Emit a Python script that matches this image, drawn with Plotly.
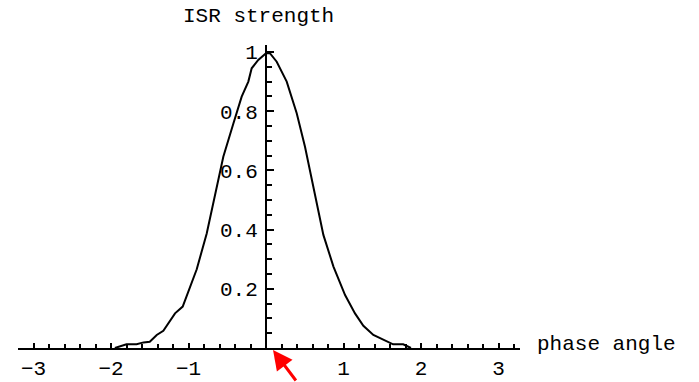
import plotly.graph_objects as go

# data
phase = [-1.95, -1.80, -1.67, -1.58, -1.50, -1.41, -1.325, -1.174, -1.075, -0.894,
         -0.765, -0.636, -0.551, -0.42, -0.314, -0.228, -0.185, -0.10, 0.0, 0.05,
         0.138, 0.267, 0.396, 0.503, 0.61, 0.74, 0.87, 1.02, 1.148, 1.256,
         1.385, 1.49, 1.64, 1.77, 1.87]
strength = [0.0, 0.0125, 0.0125, 0.019, 0.021, 0.044, 0.058, 0.117, 0.14, 0.266,
            0.387, 0.54, 0.646, 0.759, 0.849, 0.90, 0.945, 0.973, 0.996, 0.996,
            0.967, 0.90, 0.793, 0.68, 0.54, 0.382, 0.275, 0.179, 0.117, 0.075,
            0.044, 0.030, 0.0125, 0.0125, 0.0]

x_tickvals = [-3, -2, -1, 1, 2, 3]
x_ticktext = ["\u22123", "\u22122", "\u22121", "1", "2", "3"]
y_tickvals = [0.2, 0.4, 0.6, 0.8, 1.0]
y_ticktext = ["0.2", "0.4", "0.6", "0.8", "1"]

x_title = "phase angle"
y_title = "ISR strength"

FONT = "Liberation Mono"
TICKSIZE = 21

fig = go.Figure()
fig.add_trace(go.Scatter(x=phase, y=strength, mode="lines",
                         line=dict(color="black", width=2),
                         hoverinfo="skip", showlegend=False))

fig.update_layout(
    width=699, height=382,
    margin=dict(l=18, r=179, t=45, b=34, autoexpand=False),
    paper_bgcolor="white", plot_bgcolor="white",
    font=dict(family=FONT, size=TICKSIZE, color="black"),
    showlegend=False,
    xaxis=dict(range=[-3.2, 3.277], showgrid=False, zeroline=False,
               automargin=False,
               showline=True, linecolor="black", linewidth=2,
               tickmode="array", tickvals=x_tickvals, ticktext=x_ticktext,
               ticks="inside", ticklen=5, tickwidth=2, tickcolor="black",
               ticklabelstandoff=0,
               minor=dict(dtick=0.2, tick0=0, ticks="inside", ticklen=4,
                          tickwidth=2, tickcolor="black", showgrid=False),
               tickfont=dict(family=FONT, size=TICKSIZE, color="black")),
    yaxis=dict(range=[0, 1.0236], showgrid=False, zeroline=False,
               automargin=False,
               showline=True, linecolor="black", linewidth=2,
               anchor="free", position=0.494, side="left",
               tickmode="array", tickvals=y_tickvals, ticktext=y_ticktext,
               ticks="inside", ticklen=7, tickwidth=2, tickcolor="black",
               ticklabelstandoff=3,
               minor=dict(dtick=0.05, tick0=0, ticks="inside", ticklen=5,
                          tickwidth=2, tickcolor="black", showgrid=False),
               tickfont=dict(family=FONT, size=TICKSIZE, color="black")),
)

fig.add_annotation(text=y_title, xref="paper", yref="paper",
                   x=0.479, y=1.0957, xanchor="center", yanchor="middle",
                   showarrow=False, font=dict(family=FONT, size=21, color="black"))
fig.add_annotation(text=x_title, xref="paper", yref="paper",
                   x=1.03, y=0.012, xanchor="left", yanchor="middle",
                   showarrow=False, font=dict(family=FONT, size=21, color="black"))

# red arrow pointing at the origin
fig.add_annotation(text="", xref="paper", yref="paper", x=0.508, y=-0.0066,
                   ax=24, ay=48, showarrow=True, arrowhead=2,
                   arrowsize=1.3, arrowwidth=3, arrowcolor="red", standoff=0)

fig.write_html("out.html")
